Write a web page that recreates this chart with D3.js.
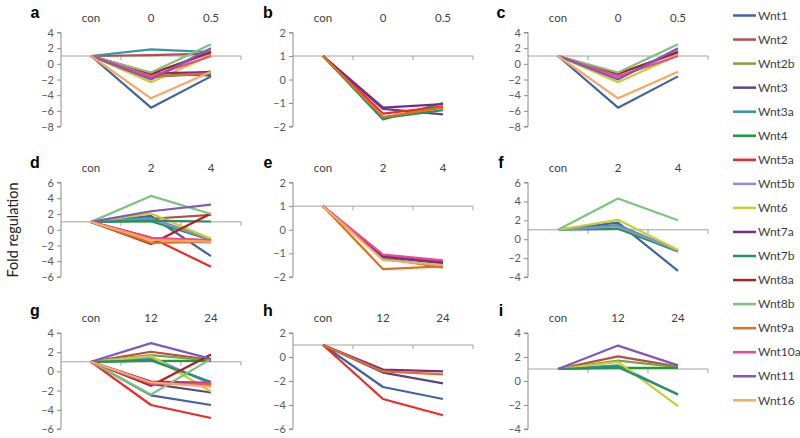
<!DOCTYPE html>
<html><head><meta charset="utf-8">
<script src="https://cdn.jsdelivr.net/npm/d3@7"></script>
<style>
body{margin:0;background:#fff;}
svg{display:block;}
text{font-family:Lato,"Open Sans",sans-serif;}
</style></head><body>
<svg id="c" width="800" height="438"></svg>
<script>
const genes = ["Wnt1","Wnt2","Wnt2b","Wnt3","Wnt3a","Wnt4","Wnt5a","Wnt5b","Wnt6","Wnt7a","Wnt7b","Wnt8a","Wnt8b","Wnt9a","Wnt10a","Wnt11","Wnt16"];
const colors = ["#3F64A0","#B54D4A","#849E3F","#5B4682","#3494A8","#1E9A3A","#F02828","#8C8CDC","#CCCC2A","#7B2A8E","#25906A","#B01E24","#7CC47C","#E0701E","#F0488C","#8058B8","#F8A860"];

const catsRow1 = ["con","0","0.5"];
const catsRow2 = ["con","2","4"];
const catsRow3 = ["con","12","24"];

// values per gene (gene order) at [con, t1, t2]
const valsRow1 = [[1,-5.6,-1.6],[1,1.1,1.3],[1,-1.2,1.4],[1,-1.25,-1.48],[1,1.85,1.5],[1,-1.7,-1.0],[1,-1.45,-1.15],[1,-1.9,1.7],[1,-2.35,1.1],[1,-1.2,-1.05],[1,-1.65,-1.3],[1,-1.3,1.5],[1,-1.1,2.5],[1,-1.6,-1.2],[1,-1.6,1.0],[1,-2.0,2.0],[1,-4.4,-1.0]];
const valsRow2 = [[1,1.75,-3.35],[1,1.4,1.9],[1,-1.2,-1.6],[1,-1.15,-1.42],[1,1.5,-1.2],[1,1.1,-1.3],[1,-1.0,-4.7],[1,1.35,-1.2],[1,2.05,-1.15],[1,-1.1,-1.35],[1,1.15,1.05],[1,-1.8,2.05],[1,4.3,2.0],[1,-1.67,-1.55],[1,-1.05,-1.3],[1,2.35,3.2],[1,-1.28,-1.5]];
const valsRow3 = [[1,-2.5,-3.5],[1,2.05,1.2],[1,1.7,1.15],[1,-1.3,-2.2],[1,1.3,-1.15],[1,1.1,1.1],[1,-3.5,-4.85],[1,1.5,-1.3],[1,1.6,-2.1],[1,-1.05,-1.2],[1,1.15,-1.1],[1,-1.5,1.75],[1,-2.4,1.3],[1,-1.2,-1.45],[1,-1.3,-1.25],[1,2.95,1.3],[1,-1.15,-1.6]];

const subsetB = ["Wnt3","Wnt4","Wnt5a","Wnt7a","Wnt7b","Wnt9a"];
const subsetC = ["Wnt1","Wnt2b","Wnt5b","Wnt6","Wnt8a","Wnt8b","Wnt10a","Wnt11","Wnt16"];
const subsetE = ["Wnt2b","Wnt3","Wnt7a","Wnt9a","Wnt10a","Wnt16"];
const subsetF = ["Wnt1","Wnt3a","Wnt4","Wnt5b","Wnt6","Wnt8b"];
const subsetH = ["Wnt1","Wnt3","Wnt5a","Wnt7a","Wnt9a"];
const subsetI = ["Wnt2","Wnt2b","Wnt3a","Wnt4","Wnt6","Wnt7b","Wnt11"];

const ticksA = [-8,-6,-4,-2,0,2,4];
const ticksB = [-2,-1,0,1,2];
const ticksD = [-6,-4,-2,0,2,4,6];
const ticksF = [-4,-2,0,2,4,6];
const ticksG = [-6,-4,-2,0,2,4];
const ticksH = [-6,-4,-2,0,2];
const ticksI = [-4,-2,0,2,4];

const svg = d3.select("#c");
const colX = [61, 293, 528];
const rowY = [[32.5,126.5,18],[182.5,277,168],[333,429,318]];
const W = 180;

const panels = [
 {id:"a",r:0,c:0,cats:catsRow1,vals:valsRow1,sub:genes,ticks:ticksA},
 {id:"b",r:0,c:1,cats:catsRow1,vals:valsRow1,sub:subsetB,ticks:ticksB},
 {id:"c",r:0,c:2,cats:catsRow1,vals:valsRow1,sub:subsetC,ticks:ticksA},
 {id:"d",r:1,c:0,cats:catsRow2,vals:valsRow2,sub:genes,ticks:ticksD},
 {id:"e",r:1,c:1,cats:catsRow2,vals:valsRow2,sub:subsetE,ticks:ticksB},
 {id:"f",r:1,c:2,cats:catsRow2,vals:valsRow2,sub:subsetF,ticks:ticksF},
 {id:"g",r:2,c:0,cats:catsRow3,vals:valsRow3,sub:genes,ticks:ticksG},
 {id:"h",r:2,c:1,cats:catsRow3,vals:valsRow3,sub:subsetH,ticks:ticksH},
 {id:"i",r:2,c:2,cats:catsRow3,vals:valsRow3,sub:subsetI,ticks:ticksI},
];
const letterX = [35, 268, 501];
const letterY = [18, 168, 316];

panels.forEach(p=>{
  const x0 = colX[p.c], [top,bot,labY] = rowY[p.r];
  const x = d3.scalePoint().domain(p.cats).range([x0,x0+W]).padding(0.5);
  const y = d3.scaleLinear().domain([d3.min(p.ticks), d3.max(p.ticks)]).range([bot,top]);
  const g = svg.append("g");
  // y axis
  const ax = g.append("g").attr("transform",`translate(${x0},0)`)
    .call(d3.axisLeft(y).tickValues(p.ticks).tickSize(4).tickPadding(3).tickFormat(d3.format("d")));
  ax.selectAll("path,line").attr("stroke","#8c8c8c");
  ax.select(".domain").attr("d",`M-4,${y(d3.max(p.ticks))}H0V${y(d3.min(p.ticks))}H-4`);
  ax.selectAll("text").attr("fill","#595959").style("font-size","11px").style("font-family","Lato,'Open Sans',sans-serif");
  // category axis crossing at 1
  const y1 = y(1);
  g.append("line").attr("x1",x0).attr("x2",x0+W).attr("y1",y1).attr("y2",y1).attr("stroke","#a0a0a0").attr("stroke-width",1);
  [1,2,3].forEach(k=>{
    g.append("line").attr("x1",x0+k*W/3).attr("x2",x0+k*W/3).attr("y1",y1).attr("y2",y1+4).attr("stroke","#a0a0a0");
  });
  // category labels on top
  g.selectAll(".cl").data(p.cats).enter().append("text")
    .attr("x",d=>x(d)).attr("y",labY).attr("dy","0.35em").attr("text-anchor","middle")
    .attr("fill","#404040").style("font-size","11.5px").text(d=>d);
  // panel letter
  g.append("text").attr("x",letterX[p.c]).attr("y",letterY[p.r]).attr("text-anchor","middle")
    .style("font-family","'Liberation Sans',Arial,sans-serif").style("font-weight","bold").style("font-size","16px")
    .attr("fill","#000").text(p.id);
  // series
  const line = d3.line().x((d,i)=>x(p.cats[i])).y(d=>y(d));
  genes.forEach((gn,gi)=>{
    if(!p.sub.includes(gn)) return;
    g.append("path").attr("d",line(p.vals[gi])).attr("fill","none")
      .attr("stroke",colors[gi]).attr("stroke-width",2.2).attr("stroke-linejoin","round");
  });
});

// y label
svg.append("text").attr("transform","translate(13,230) rotate(-90)").attr("text-anchor","middle")
  .attr("dy","0.35em").attr("fill","#222").style("font-size","14.5px").text("Fold regulation");

// legend
const lg = svg.append("g");
genes.forEach((gn,gi)=>{
  const yy = 15.5 + gi*24.05;
  lg.append("line").attr("x1",733).attr("x2",756).attr("y1",yy).attr("y2",yy).attr("stroke",colors[gi]).attr("stroke-width",2.5);
  lg.append("text").attr("x",758).attr("y",yy).attr("dy","0.35em").attr("fill","#404040").style("font-size","12px").text(gn);
});
</script></body></html>
